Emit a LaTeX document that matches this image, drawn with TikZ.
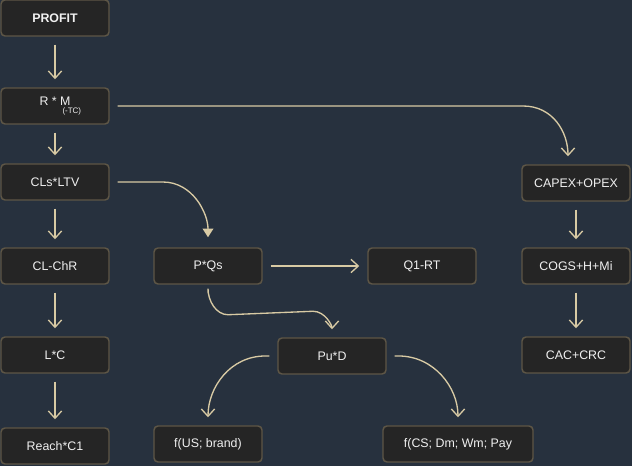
\documentclass[tikz,border=0pt]{standalone}
\usepackage{fontspec}
\setmainfont{Liberation Sans}
\usetikzlibrary{arrows.meta,calc}
\definecolor{bg}{HTML}{27313E}
\definecolor{nodefill}{HTML}{252525}
\definecolor{nodeborder}{HTML}{5E5646}
\definecolor{arrowc}{HTML}{D8CAA4}
\definecolor{txt}{HTML}{F0F0F0}
\begin{document}
\begin{tikzpicture}[x=0.75pt,y=-0.75pt,
 box/.style={draw=nodeborder, fill=nodefill, line width=1.1pt, rounded corners=3pt,
   minimum width=81pt, minimum height=27pt, inner sep=2pt, text=txt,
   font=\fontsize{9.3}{11}\selectfont},
 arr/.style={draw=arrowc, line width=1pt, -{Straight Barb[length=5.5pt,width=10pt]},
   shorten >=6pt, shorten <=6pt},
 farr/.style={draw=arrowc, line width=1pt, -{Triangle[length=6.5pt,width=8pt]},
   shorten >=7.5pt, shorten <=6pt}
]
\useasboundingbox (0,0) rectangle (632,466);
\fill[bg] (0,0) rectangle (632,466);

\node[box, font=\fontsize{9.3}{11}\selectfont\bfseries] (profit) at (55,18) {PROFIT};
\node[box] (rm) at (55,106) {R * M\rlap{\hspace{-6pt}\raisebox{-6pt}{\fontsize{6}{7}\selectfont (-TC)}}};
\node[box] (cls) at (55,182) {CLs*LTV};
\node[box] (clchr) at (55,266) {CL-ChR};
\node[box] (lc) at (55,355) {L*C};
\node[box] (reach) at (55,446) {Reach*C1};
\node[box] (pqs) at (208,266) {P*Qs};
\node[box] (q1) at (422,266) {Q1-RT};
\node[box] (pud) at (332,356) {Pu*D};
\node[box] (fus) at (208,444) {f(US; brand)};
\node[box, minimum width=112.5pt] (fcs) at (458,444) {f(CS; Dm; Wm; Pay};
\node[box] (cap) at (576,183) {CAPEX+OPEX};
\node[box] (cogs) at (576,266) {COGS+H+Mi};
\node[box] (cac) at (576,355) {CAC+CRC};

\draw[arr] (profit) -- (rm);
\draw[arr] (rm) -- (cls);
\draw[arr] (cls) -- (clchr);
\draw[arr] (clchr) -- (lc);
\draw[arr] (lc) -- (reach);
\draw[arr] (cap) -- (cogs);
\draw[arr] (cogs) -- (cac);
\draw[arr] (pqs) -- (q1);

\draw[arr] (rm.east) -- ($(cap.north |- rm.east)+(-53,0)$)
  .. controls +(30,0) and +(0,-32) .. ($(cap.north)+(-8,0)$);
\draw[farr] (cls.east) -- ($(cls.east)+(53,0)$)
  .. controls +(30,0) and +(0,-34) .. (pqs.north);
\draw[arr] (pqs.south) -- ($(pqs.south)+(0,4)$)
  .. controls +(0,12) and +(-12,0) .. ($(pqs.south)+(20,30)$)
  -- ($(pud.north)+(-19,-26)$)
  .. controls +(12,0) and +(0,-12) .. (pud.north);
\draw[arr] (pud.west) -- ($(pud.west)+(-12,0)$)
  .. controls +(-35,0) and +(0,-38) .. (fus.north);
\draw[arr] (pud.east) -- ($(pud.east)+(12,0)$)
  .. controls +(35,0) and +(0,-38) .. (fcs.north);
\end{tikzpicture}
\end{document}
